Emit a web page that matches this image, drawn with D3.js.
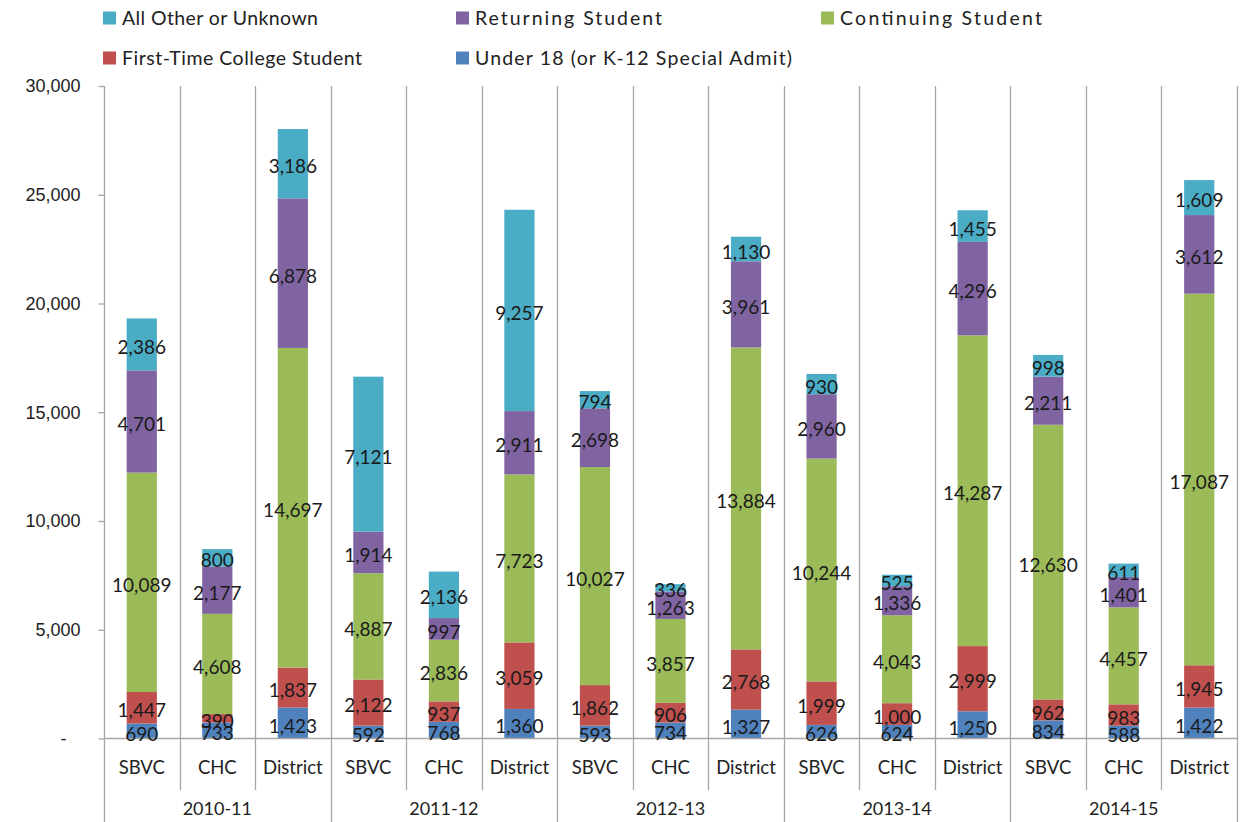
<!DOCTYPE html>
<html>
<head>
<meta charset="utf-8">
<script src="https://cdn.jsdelivr.net/npm/d3@7"></script>
<style>
  body { margin: 0; background: #fff; }
  svg { display: block; font-family: Lato, "Open Sans", sans-serif; }
</style>
</head>
<body>
<div id="container"></div>
<script>
var width = 1251;
var height = 822;

// data
var years = ["2010-11", "2011-12", "2012-13", "2013-14", "2014-15"];
var schools = ["SBVC", "CHC", "District"];
var under18 = [690, 733, 1423, 592, 768, 1360, 593, 734, 1327, 626, 624, 1250, 834, 588, 1422];
var firstTime = [1447, 390, 1837, 2122, 937, 3059, 1862, 906, 2768, 1999, 1000, 2999, 962, 983, 1945];
var continuing = [10089, 4608, 14697, 4887, 2836, 7723, 10027, 3857, 13884, 10244, 4043, 14287, 12630, 4457, 17087];
var returning = [4701, 2177, 6878, 1914, 997, 2911, 2698, 1263, 3961, 2960, 1336, 4296, 2211, 1401, 3612];
var other = [2386, 800, 3186, 7121, 2136, 9257, 794, 336, 1130, 930, 525, 1455, 998, 611, 1609];
var yTicks = [0, 5000, 10000, 15000, 20000, 25000, 30000];

var seriesNames = ["Under 18 (or K-12 Special Admit)", "First-Time College Student", "Continuing Student", "Returning Student", "All Other or Unknown"];
var seriesKeys = ["u18", "ft", "cont", "ret", "oth"];
var colors = ["#4f81bd", "#c0504d", "#9bbb59", "#8064a2", "#4bacc6"];

var rows = [];
for (var i = 0; i < under18.length; i++) {
  rows.push({
    idx: i,
    school: schools[i % 3],
    year: years[Math.floor(i / 3)],
    u18: under18[i], ft: firstTime[i], cont: continuing[i], ret: returning[i], oth: other[i]
  });
}

var plotLeft = 104, plotRight = 1237, plotTop = 86, zeroY = 738.5;
var lineCol = "#a6a6a6";

var x = d3.scaleBand().domain(d3.range(rows.length)).range([plotLeft, plotRight]).paddingInner(0.6).paddingOuter(0.3);
var y = d3.scaleLinear().domain([0, 30000]).range([zeroY, plotTop]);
var step = x.step();

var svg = d3.select("#container").append("svg").attr("width", width).attr("height", height);

// vertical gridlines / category dividers
var divs = d3.range(1, rows.length + 1);
svg.append("g").selectAll("line").data(divs).enter().append("line")
  .attr("x1", function(d) { return Math.round(plotLeft + d * step) + 0.5; })
  .attr("x2", function(d) { return Math.round(plotLeft + d * step) + 0.5; })
  .attr("y1", plotTop)
  .attr("y2", function(d) { return d % 3 === 0 ? height : 790; })
  .attr("stroke", lineCol).attr("stroke-width", 1.3);

// y axis
var yAxis = d3.axisLeft(y).tickValues(yTicks).tickSize(6).tickPadding(18)
  .tickFormat(function(d) { return d === 0 ? "-" : d3.format(",")(d); });
var ya = svg.append("g").attr("transform", "translate(" + (plotLeft + 0.5) + ",0)").call(yAxis);
ya.select(".domain").remove();
ya.selectAll(".tick line").attr("stroke", lineCol).attr("stroke-width", 1.3);
ya.selectAll(".tick text").attr("font-size", 18).attr("fill", "#222")
  .attr("dx", function(d) { return d === 0 ? -14 : 0; });
svg.append("line").attr("x1", plotLeft + 0.5).attr("x2", plotLeft + 0.5).attr("y1", plotTop).attr("y2", height)
  .attr("stroke", lineCol).attr("stroke-width", 1.3);

// stacked bars
var stack = d3.stack().keys(seriesKeys);
var layers = stack(rows);

var lg = svg.append("g");
lg.selectAll("g").data(layers).enter().append("g")
  .attr("fill", function(d, i) { return colors[i]; })
  .selectAll("rect").data(function(d) { return d; }).enter().append("rect")
  .attr("x", function(d) { return x(d.data.idx); })
  .attr("width", x.bandwidth())
  .attr("y", function(d) { return y(d[1]); })
  .attr("height", function(d) { return y(d[0]) - y(d[1]); });

// x axis baseline
svg.append("line").attr("x1", plotLeft).attr("x2", plotRight + 1).attr("y1", zeroY).attr("y2", zeroY)
  .attr("stroke", lineCol).attr("stroke-width", 1.3);

// data labels
var labG = svg.append("g");
layers.forEach(function(layer) {
  labG.selectAll(null).data(layer).enter().append("text")
    .attr("x", function(d) { return x(d.data.idx) + x.bandwidth() / 2; })
    .attr("y", function(d) { return (y(d[0]) + y(d[1])) / 2 + 3; })
    .attr("dy", "0.35em")
    .attr("text-anchor", "middle")
    .attr("font-size", 19)
    .attr("fill", "#1a1a1a")
    .text(function(d) { return d3.format(",")(d[1] - d[0]); });
});

// category labels
svg.append("g").selectAll("text").data(rows).enter().append("text")
  .attr("x", function(d) { return x(d.idx) + x.bandwidth() / 2; })
  .attr("y", 768).attr("dy", "0.35em")
  .attr("text-anchor", "middle").attr("font-size", 18.5).attr("fill", "#222")
  .text(function(d) { return d.school; });

svg.append("g").selectAll("text").data(years).enter().append("text")
  .attr("x", function(d, i) { return plotLeft + (i * 3 + 1.5) * step; })
  .attr("y", 809).attr("dy", "0.35em")
  .attr("text-anchor", "middle").attr("font-size", 18).attr("fill", "#222")
  .text(function(d) { return d; });

// legend (tw = rendered text width, matched to the reference)
var legendItems = [
  { i: 4, x: 103, y: 18, tw: 196 },
  { i: 3, x: 456, y: 18, tw: 187 },
  { i: 2, x: 821, y: 18, tw: 202 },
  { i: 1, x: 103, y: 58, tw: 240 },
  { i: 0, x: 456, y: 58, tw: 317 }
];
var leg = svg.append("g").selectAll("g").data(legendItems).enter().append("g")
  .attr("transform", function(d) { return "translate(" + d.x + "," + d.y + ")"; });
leg.append("rect").attr("x", 0).attr("y", -6.5).attr("width", 13).attr("height", 13)
  .attr("fill", function(d) { return colors[d.i]; });
leg.append("text").attr("x", 19).attr("dy", "0.35em").attr("font-size", 19.5).attr("fill", "#222")
  .attr("textLength", function(d) { return d.tw; })
  .attr("lengthAdjust", "spacing")
  .text(function(d) { return seriesNames[d.i]; });
</script>
</body>
</html>
